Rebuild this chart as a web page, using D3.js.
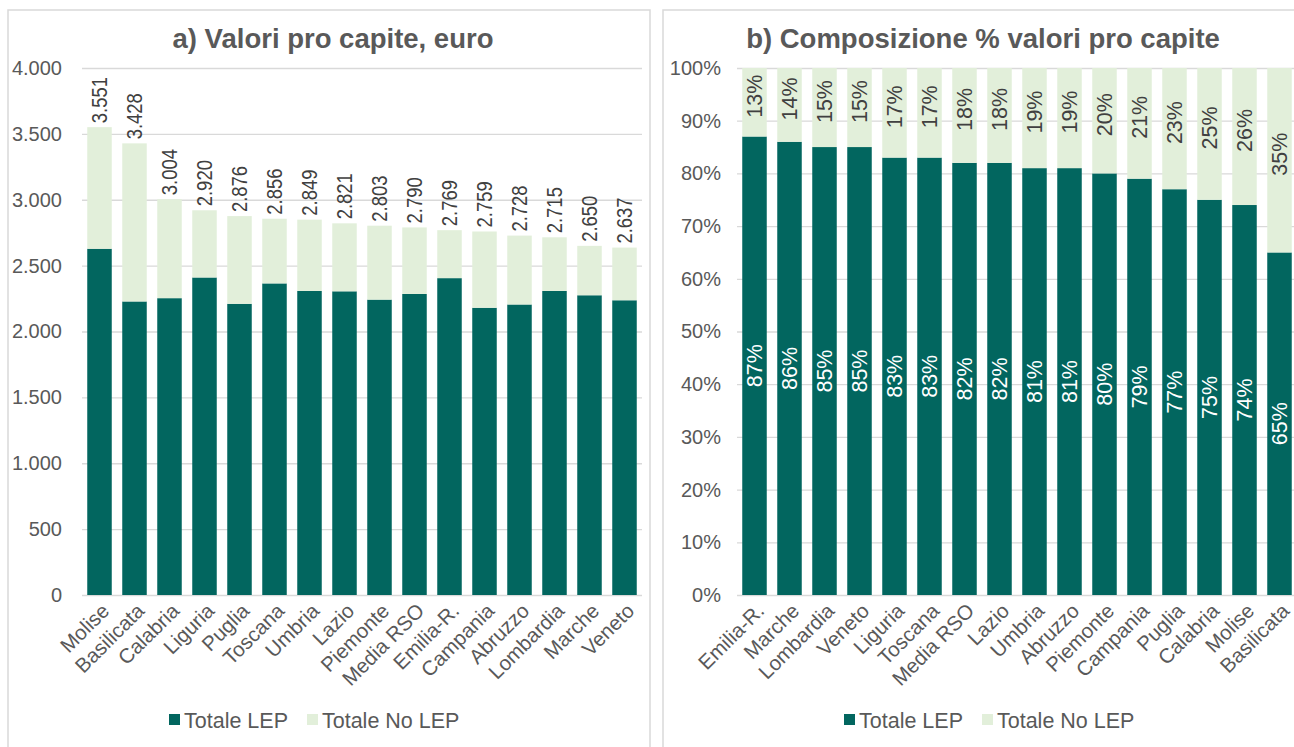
<!DOCTYPE html>
<html><head><meta charset="utf-8">
<script src="https://cdn.jsdelivr.net/npm/d3@7"></script>
<style>
body{margin:0;background:#fff;}
svg{display:block;font-family:"Liberation Sans",Arial,sans-serif;}
</style></head><body>
<svg id="c" width="1294" height="747"></svg>
<script>
// ---- Data: panel a (euro per capita) ----
const categoriesA = ["Molise","Basilicata","Calabria","Liguria","Puglia","Toscana","Umbria","Lazio","Piemonte","Media RSO","Emilia-R.","Campania","Abruzzo","Lombardia","Marche","Veneto"];
const lepA   = [2628, 2228, 2253, 2410, 2210, 2365, 2308, 2305, 2242, 2285, 2405, 2180, 2205, 2308, 2275, 2237];
const noLepA = [ 923, 1200,  751,  510,  666,  491,  541,  516,  561,  505,  364,  579,  523,  407,  375,  400];
const ticksA = [0, 500, 1000, 1500, 2000, 2500, 3000, 3500, 4000];

// ---- Data: panel b (% composition) ----
const categoriesB = ["Emilia-R.","Marche","Lombardia","Veneto","Liguria","Toscana","Media RSO","Lazio","Umbria","Abruzzo","Piemonte","Campania","Puglia","Calabria","Molise","Basilicata"];
const lepB   = [87, 86, 85, 85, 83, 83, 82, 82, 81, 81, 80, 79, 77, 75, 74, 65];
const noLepB = [13, 14, 15, 15, 17, 17, 18, 18, 19, 19, 20, 21, 23, 25, 26, 35];
const ticksB = [0, 10, 20, 30, 40, 50, 60, 70, 80, 90, 100];

const seriesNames = ["Totale LEP", "Totale No LEP"];
const colors = ["#02665f", "#e2efda"];
const txt = "#595959", lbl = "#404040", grid = "#d9d9d9";

const loc = d3.formatLocale({decimal: ",", thousands: ".", grouping: [3], currency: ["", "€"]});
const fmtA = loc.format(",d");

const svg = d3.select("#c");

// panel frames
svg.append("rect").attr("x", 8).attr("y", 10).attr("width", 642).attr("height", 760)
  .attr("fill", "none").attr("stroke", grid).attr("stroke-width", 1.5);
svg.append("rect").attr("x", 663).attr("y", 10).attr("width", 660).attr("height", 760)
  .attr("fill", "none").attr("stroke", grid).attr("stroke-width", 1.5);

function panel(opts) {
  const {cats, s1, s2, ticks, ymax, x0, x1, yTop, yBot, tickFmt, axisX, title, titleX, legendX, mode} = opts;
  const g = svg.append("g");
  const x = d3.scaleBand().domain(cats).range([x0, x1]).paddingInner(0.3).paddingOuter(0.15);
  const y = d3.scaleLinear().domain([0, ymax]).range([yBot, yTop]);

  // title
  g.append("text").attr("x", titleX).attr("y", 48).attr("text-anchor", "middle")
    .attr("font-size", 27.5).attr("font-weight", "bold").attr("fill", txt).text(title);

  // gridlines
  const gy = g.append("g").attr("transform", `translate(${x0},0)`)
    .call(d3.axisLeft(y).tickValues(ticks).tickSize(-(x1 - x0)).tickFormat(""));
  gy.select(".domain").remove();
  gy.selectAll(".tick line").attr("stroke", grid).attr("stroke-width", 1.3);

  // tick labels
  const gl = g.append("g").attr("transform", `translate(${axisX},0)`)
    .call(d3.axisLeft(y).tickValues(ticks).tickSize(0).tickPadding(0).tickFormat(tickFmt));
  gl.select(".domain").remove();
  gl.selectAll("text").attr("font-size", 20).attr("fill", txt).attr("font-family", "Liberation Sans, Arial, sans-serif");

  // stacked bars
  const rows = cats.map((c, i) => ({cat: c, a: s1[i], b: s2[i]}));
  const stacked = d3.stack().keys(["a", "b"])(rows);
  stacked.forEach((layer, li) => {
    g.append("g").selectAll("rect").data(layer).join("rect")
      .attr("x", d => x(d.data.cat))
      .attr("width", x.bandwidth())
      .attr("y", d => y(d[1]))
      .attr("height", d => y(d[0]) - y(d[1]))
      .attr("fill", colors[li]);
  });

  // data labels
  if (mode === "total") {
    g.append("g").selectAll("text").data(stacked[1]).join("text")
      .attr("transform", d => `translate(${x(d.data.cat) + x.bandwidth() / 2},${y(d[1]) - 4}) rotate(-90) scale(0.84,1)`)
      .attr("dy", "0.36em").attr("font-size", 22).attr("fill", lbl)
      .text(d => fmtA(d[1]));
  } else {
    stacked.forEach((layer, li) => {
      const shift = li === 0 ? 0 : -6;
      g.append("g").selectAll("text").data(layer).join("text")
        .attr("transform", d => `translate(${x(d.data.cat) + x.bandwidth() / 2},${(y(d[0]) + y(d[1])) / 2 + shift}) rotate(-90)`)
        .attr("text-anchor", "middle").attr("dy", "0.36em").attr("font-size", 21.5)
        .attr("fill", li === 0 ? "#ffffff" : lbl)
        .text(d => (d[1] - d[0]) + "%");
    });
  }

  // category labels
  g.append("g").selectAll("text").data(cats).join("text")
    .attr("transform", c => `translate(${x(c) + x.bandwidth() / 2 + 6},${yBot + 12}) rotate(-45)`)
    .attr("text-anchor", "end").attr("dy", "0.35em").attr("font-size", 20.5).attr("fill", txt)
    .text(c => c);

  // legend
  const lg = g.append("g").attr("transform", `translate(${legendX},720)`);
  let lx = 0;
  seriesNames.forEach((n, i) => {
    lg.append("rect").attr("x", lx).attr("y", -6).attr("width", 11).attr("height", 11).attr("fill", colors[i]);
    const t = lg.append("text").attr("x", lx + 15).attr("y", 0).attr("dy", "0.35em")
      .attr("font-size", 21.5).attr("fill", txt).text(n);
    lx += 15 + t.node().getComputedTextLength() + 19;
  });
}

panel({cats: categoriesA, s1: lepA, s2: noLepA, ticks: ticksA, ymax: 4000,
  x0: 82, x1: 642, yTop: 68, yBot: 595, tickFmt: d => fmtA(d), axisX: 62,
  title: "a) Valori pro capite, euro", titleX: 333, legendX: 169, mode: "total"});

panel({cats: categoriesB, s1: lepB, s2: noLepB, ticks: ticksB, ymax: 100,
  x0: 737, x1: 1297, yTop: 68, yBot: 595, tickFmt: d => d + "%", axisX: 721,
  title: "b) Composizione % valori pro capite", titleX: 983, legendX: 844, mode: "pct"});
</script>
</body></html>
